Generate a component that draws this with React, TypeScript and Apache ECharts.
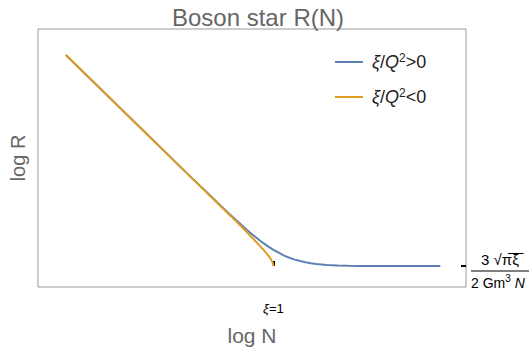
import React, { useEffect, useRef } from "react";
import * as echarts from "echarts";

// (log N, log R in arbitrary units; ξ=1 at log N = 0)
const blueLogN = [-4.85, -3, -2, -1.5, -1.25, -1.125, -1, -0.875, -0.75, -0.625, -0.5, -0.375, -0.25, -0.125, 0, 0.125, 0.25, 0.375, 0.5, 0.625, 0.75, 0.875, 1, 1.25, 1.5, 1.75, 2, 2.5, 3, 3.9];
const blueLogR = [5.05, 3.2, 2.2, 1.71, 1.46, 1.34, 1.22, 1.1, 0.99, 0.87, 0.76, 0.66, 0.56, 0.47, 0.39, 0.32, 0.25, 0.2, 0.155, 0.12, 0.09, 0.068, 0.05, 0.028, 0.015, 0.008, 0.005, 0.001, 0, 0];
const orangeLogN = [-4.85, -3, -2, -1, -0.6, -0.5, -0.4, -0.3, -0.25, -0.2, -0.15, -0.1, -0.07, -0.04, -0.02, -0.008, 0];
const orangeLogR = [5.05, 3.2, 2.2, 1.2, 0.79, 0.685, 0.575, 0.465, 0.41, 0.35, 0.29, 0.225, 0.185, 0.13, 0.09, 0.05, 0];
const seriesNames = ["pos", "neg"];
const legendLabels = ["{i|ξ}/{i|Q}{s|2}>0", "{i|ξ}/{i|Q}{s|2}<0"];
const xTickValues = [0];
const yTickValues = [0];

const FONT = "Liberation Sans, Arial, sans-serif";

export default function App() {
  const ref = useRef<HTMLDivElement>(null);
  useEffect(() => {
    document.body.style.margin = "0";
    const chart = echarts.init(ref.current!, null, { renderer: "svg" });
    const pair = (xs: number[], ys: number[]) => xs.map((x, i) => [x, ys[i]]);
    chart.setOption({
      animation: false,
      textStyle: { fontFamily: FONT },
      title: {
        text: "Boson star R(N)",
        left: 253,
        top: 0,
        textAlign: "center",
        textStyle: { fontSize: 24, fontWeight: "normal", color: "#666", fontFamily: FONT },
      },
      grid: {
        left: 37,
        right: 64,
        top: 29,
        bottom: 56,
        show: true,
        borderColor: "#999",
        borderWidth: 1,
        backgroundColor: "transparent",
      },
      legend: {
        orient: "vertical",
        left: 335,
        top: 52,
        padding: 0,
        itemGap: 16,
        itemWidth: 28,
        itemHeight: 2,
        icon: "rect",
        data: seriesNames,
        formatter: (name: string) => legendLabels[seriesNames.indexOf(name)],
        textStyle: {
          color: "#222",
          fontSize: 18,
          fontFamily: FONT,
          padding: [0, 0, 0, 4],
          rich: {
            i: { fontStyle: "italic", fontSize: 18, color: "#222", fontFamily: FONT, lineHeight: 20 },
            s: { fontSize: 12, color: "#222", verticalAlign: "top", lineHeight: 12, fontFamily: FONT },
          },
        },
      },
      xAxis: {
        type: "value",
        min: -5.5,
        max: 4.5,
        splitLine: { show: false },
        axisLine: { show: false },
        name: "log N",
        nameLocation: "middle",
        nameGap: 38,
        nameTextStyle: { fontSize: 21, color: "#666", fontFamily: FONT },
        axisTick: {
          show: true,
          customValues: xTickValues,
          inside: true,
          length: 5,
          lineStyle: { color: "#000", width: 2 },
        },
        axisLabel: {
          customValues: xTickValues,
          margin: 15,
          formatter: () => "{i|ξ}=1",
          color: "#000",
          fontSize: 13,
          rich: { i: { fontStyle: "italic", fontSize: 13, color: "#000" } },
        },
      },
      yAxis: [
        {
          type: "value",
          min: -0.5,
          max: 5.67,
          splitLine: { show: false },
          axisLine: { show: false },
          axisTick: { show: false },
          axisLabel: { show: false },
          name: "log R",
          nameLocation: "middle",
          nameGap: 10,
          nameTextStyle: { fontSize: 20, color: "#666", fontFamily: FONT },
        },
        {
          type: "value",
          position: "right",
          min: -0.5,
          max: 5.67,
          splitLine: { show: false },
          axisLine: { show: false },
          axisTick: {
            show: true,
            customValues: yTickValues,
            inside: true,
            length: 5,
            lineStyle: { color: "#000", width: 2 },
          },
          axisLabel: {
            customValues: yTickValues,
            margin: 5,
            padding: [10, 0, 0, 0],
            formatter: () => "{n|3 √π̅ξ̅}\n{bar|}\n{d|2 Gm}{ds|3}{di| N}",
            rich: {
              n: { fontSize: 15, color: "#000", align: "center", width: 58, lineHeight: 20 },
              bar: { width: 58, height: 1, backgroundColor: "#000", lineHeight: 4 },
              d: { fontSize: 14, color: "#000", lineHeight: 20 },
              ds: { fontSize: 10, color: "#000", verticalAlign: "top", lineHeight: 14 },
              di: { fontSize: 14, color: "#000", fontStyle: "italic", lineHeight: 20 },
            },
          },
        },
      ],
      series: [
        {
          name: seriesNames[0],
          type: "line",
          data: pair(blueLogN, blueLogR),
          showSymbol: false,
          smooth: false,
          lineStyle: { color: "#5E81B5", width: 2 },
          itemStyle: { color: "#5E81B5" },
        },
        {
          name: seriesNames[1],
          type: "line",
          data: pair(orangeLogN, orangeLogR),
          showSymbol: false,
          smooth: false,
          lineStyle: { color: "#E19C24", width: 2 },
          itemStyle: { color: "#E19C24" },
        },
      ],
    });
    return () => chart.dispose();
  }, []);
  return <div ref={ref} style={{ width: 532, height: 351 }} />;
}
